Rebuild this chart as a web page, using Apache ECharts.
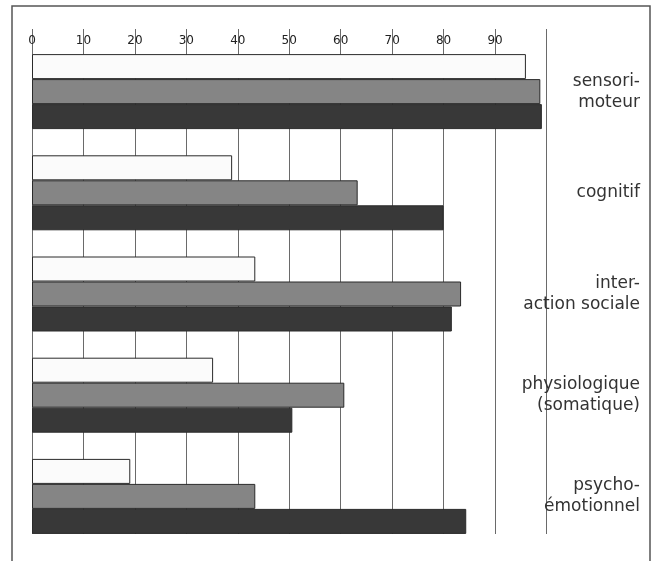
<!DOCTYPE html>
<html>
<head>
<meta charset="utf-8">
<script src="https://cdn.jsdelivr.net/npm/echarts@6/dist/echarts.min.js"></script>
<style>
html, body { margin: 0; padding: 0; background: #fff; }
#main { width: 656px; height: 561px; }
</style>
</head>
<body>
<div id="main"></div>
<script>
// catégories (de haut en bas)
var categories = ['sensori-\nmoteur', 'cognitif', 'inter-\naction sociale', 'physiologique\n(somatique)', 'psycho-\némotionnel'];
// trois séries : blanche, grise, noire
var whiteValues = [96, 38.9, 43.4, 35.2, 19.1];
var grayValues = [98.8, 63.3, 83.4, 60.7, 43.4];
var darkValues = [99.1, 80, 81.6, 50.6, 84.4];
var tickLabels = ['0', '10', '20', '30', '40', '50', '60', '70', '80', '90'];

var chartDom = document.getElementById('main');
var myChart = echarts.init(chartDom);

var left = 32;
var right = 656 - 546.5;

function barStyle(color) {
    return {
        color: color,
        borderColor: '#2a2a2a',
        borderWidth: 1
    };
}

var option = {
    animation: false,
    backgroundColor: '#fff',
    graphic: [
        {
            type: 'rect',
            shape: { x: 12, y: 6, width: 638, height: 600 },
            style: { fill: 'none', stroke: '#555', lineWidth: 1.5 },
            silent: true,
            z: -10
        }
    ],
    grid: [
        // barres
        { left: left, right: right, top: 41, height: 506 },
        // lignes verticales + graduations
        { left: left, right: right, top: 29, height: 505 }
    ],
    xAxis: [
        {
            gridIndex: 0,
            type: 'value',
            min: 0,
            max: 100,
            interval: 10,
            show: false
        },
        {
            gridIndex: 1,
            type: 'value',
            position: 'top',
            min: 0,
            max: 100,
            interval: 10,
            axisLine: { show: false },
            axisTick: { show: false },
            splitLine: { show: true, lineStyle: { color: '#6a6a6a', width: 1 } },
            axisLabel: {
                inside: true,
                margin: 6,
                color: '#222',
                fontSize: 12,
                fontFamily: 'DejaVu Sans',
                formatter: function (v) {
                    return tickLabels[Math.round(v / 10)] || '';
                }
            }
        }
    ],
    yAxis: [
        {
            gridIndex: 0,
            type: 'category',
            data: categories,
            inverse: true,
            position: 'right',
            axisLine: { show: false },
            axisTick: { show: false },
            splitLine: { show: false },
            axisLabel: {
                align: 'right',
                margin: 93.5,
                color: '#333',
                fontSize: 17,
                lineHeight: 21,
                fontFamily: 'DejaVu Sans',
                padding: [0, 0, 10, 0]
            }
        },
        {
            gridIndex: 1,
            type: 'value',
            show: false
        }
    ],
    series: [
        {
            type: 'bar',
            xAxisIndex: 0,
            yAxisIndex: 0,
            data: whiteValues,
            barWidth: 25,
            barGap: '0%',
            itemStyle: barStyle('#fbfbfb'),
            z: 5
        },
        {
            type: 'bar',
            xAxisIndex: 0,
            yAxisIndex: 0,
            data: grayValues,
            barWidth: 25,
            barGap: '0%',
            itemStyle: barStyle('#858585'),
            z: 5
        },
        {
            type: 'bar',
            xAxisIndex: 0,
            yAxisIndex: 0,
            data: darkValues,
            barWidth: 25,
            barGap: '0%',
            itemStyle: barStyle('#383838'),
            z: 5
        }
    ]
};

option && myChart.setOption(option);
window.addEventListener('resize', function () {
    myChart.resize();
});
</script>
</body>
</html>
